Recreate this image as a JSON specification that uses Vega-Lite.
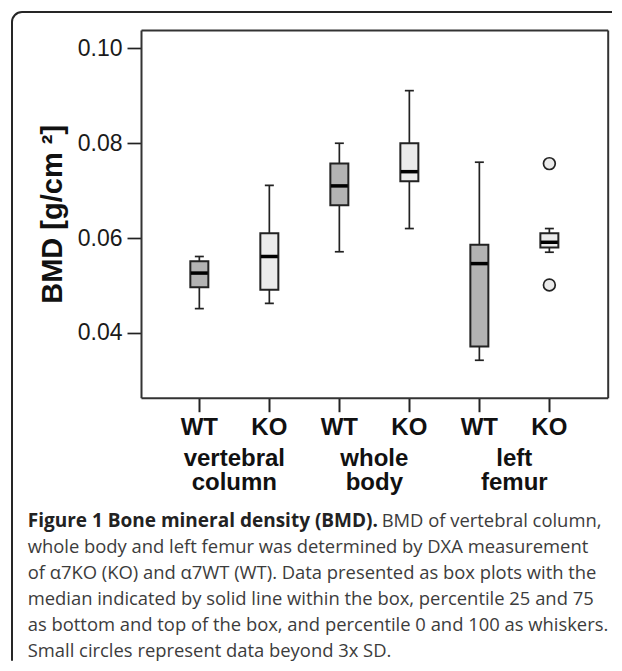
{
  "$schema": "https://vega.github.io/schema/vega-lite/v6.json",
  "width": 610,
  "height": 659,
  "autosize": {"type": "none"},
  "padding": {"left": 12, "top": 12, "right": 0, "bottom": 0},
  "background": "white",
  "config": {
    "view": {"stroke": "#262626", "strokeWidth": 2, "cornerRadius": 10, "strokeDash": [590, 1276, 700, 1000]},
    "axis": {"grid": false, "labelFont": "Liberation Sans", "titleFont": "Liberation Sans"}
  },
  "datasets": {
    "boxes": [
      {"box": "vertebral column WT", "site": "vertebral column", "genotype": "WT", "min": 0.0451, "q1": 0.0496, "median": 0.0526, "q3": 0.0551, "max": 0.0561},
      {"box": "vertebral column KO", "site": "vertebral column", "genotype": "KO", "min": 0.0462, "q1": 0.0491, "median": 0.0561, "q3": 0.0610, "max": 0.0711},
      {"box": "whole body WT", "site": "whole body", "genotype": "WT", "min": 0.0571, "q1": 0.0669, "median": 0.0710, "q3": 0.0757, "max": 0.0800},
      {"box": "whole body KO", "site": "whole body", "genotype": "KO", "min": 0.0620, "q1": 0.0720, "median": 0.0740, "q3": 0.0800, "max": 0.0911},
      {"box": "left femur WT", "site": "left femur", "genotype": "WT", "min": 0.0342, "q1": 0.0371, "median": 0.0546, "q3": 0.0586, "max": 0.0760},
      {"box": "left femur KO", "site": "left femur", "genotype": "KO", "min": 0.0570, "q1": 0.0580, "median": 0.0591, "q3": 0.0610, "max": 0.0620}
    ],
    "outliers": [
      {"box": "left femur KO", "genotype": "KO", "value": 0.0757},
      {"box": "left femur KO", "genotype": "KO", "value": 0.0501}
    ],
    "caption": [
      {"line": 1, "part": "bold", "text": "Figure 1 Bone mineral density (BMD)."},
      {"line": 1, "part": "lead", "text": "BMD of vertebral column,"},
      {"line": 2, "part": "body", "text": "whole body and left femur was determined by DXA measurement"},
      {"line": 3, "part": "body", "text": "of α7KO (KO) and α7WT (WT). Data presented as box plots with the"},
      {"line": 4, "part": "body", "text": "median indicated by solid line within the box, percentile 25 and 75"},
      {"line": 5, "part": "body", "text": "as bottom and top of the box, and percentile 0 and 100 as whiskers."},
      {"line": 6, "part": "body", "text": "Small circles represent data beyond 3x SD."}
    ]
  },
  "layer": [
    {
      "layer": [
        {
          "data": {"name": "boxes"},
          "mark": {"type": "rule", "stroke": "#222222", "strokeWidth": 1.7},
          "encoding": {
            "x": {
              "field": "box", "type": "nominal",
              "scale": {"type": "band", "domain": ["vertebral column WT", "vertebral column KO", "whole body WT", "whole body KO", "left femur WT", "left femur KO"], "range": [129, 595.7], "paddingInner": 0, "paddingOuter": 0.3333},
              "axis": {"orient": "bottom", "offset": -273.3, "title": null, "domain": true, "domainColor": "#333333", "domainWidth": 2, "ticks": true, "tickSize": 14, "tickWidth": 2, "tickColor": "#222222", "labelExpr": "slice(datum.value, -2)", "labelAngle": 0, "labelFont": "Liberation Sans", "labelFontSize": 24, "labelFontWeight": "bold", "labelColor": "#111111", "labelPadding": 4}
            },
            "y": {
              "field": "min", "type": "quantitative",
              "scale": {"domain": [0.0263, 0.1039], "range": [385.7, 18], "nice": false, "zero": false},
              "axis": {"orient": "left", "offset": -129, "values": [0.04, 0.06, 0.08, 0.1], "format": ".2f", "title": "BMD [g/cm ²]", "titleFont": "Liberation Sans", "titleFontSize": 29, "titleFontWeight": "bold", "titleColor": "#111111", "titlePadding": 10, "domain": true, "domainColor": "#333333", "domainWidth": 2, "tickSize": 14, "tickWidth": 1.7, "tickColor": "#222222", "labelFont": "Liberation Sans", "labelFontSize": 23, "labelColor": "#1a1a1a", "labelPadding": 5}
            },
            "y2": {"field": "max"}
          }
        },
        {
          "data": {"name": "boxes"},
          "mark": {"type": "tick", "size": 9, "thickness": 1.7, "color": "#222222", "opacity": 1},
          "encoding": {
            "x": {"field": "box", "type": "nominal", "axis": {"orient": "top", "offset": -18, "title": null, "domain": true, "domainColor": "#333333", "domainWidth": 2, "ticks": false, "labels": false}},
            "y": {"field": "min", "type": "quantitative", "axis": null}
          }
        },
        {
          "data": {"name": "boxes"},
          "mark": {"type": "tick", "size": 9, "thickness": 1.7, "color": "#222222", "opacity": 1},
          "encoding": {
            "x": {"field": "box", "type": "nominal", "axis": null},
            "y": {"field": "max", "type": "quantitative", "axis": null}
          }
        },
        {
          "data": {"name": "boxes"},
          "mark": {"type": "bar", "width": 18, "stroke": "#222222", "strokeWidth": 2},
          "encoding": {
            "x": {"field": "box", "type": "nominal", "axis": {"orient": "bottom", "offset": -273.3, "title": null, "domain": false, "ticks": false, "tickSize": 0, "labelExpr": "slice(datum.value, -2) == 'WT' ? split(slice(datum.value, 0, -3), ' ') : ''", "labelOffset": 35, "labelAngle": 0, "labelPadding": 49, "labelFont": "Liberation Sans", "labelFontSize": 24, "labelFontWeight": "bold", "labelColor": "#111111", "labelLineHeight": 24}},
            "y": {"field": "q1", "type": "quantitative", "axis": {"orient": "right", "offset": -14.3, "title": null, "domain": true, "domainColor": "#333333", "domainWidth": 2, "ticks": false, "labels": false}},
            "y2": {"field": "q3"},
            "color": {"field": "genotype", "type": "nominal", "scale": {"domain": ["WT", "KO"], "range": ["#b3b3b3", "#ebebeb"]}, "legend": null}
          }
        },
        {
          "data": {"name": "boxes"},
          "mark": {"type": "tick", "size": 17, "thickness": 3.5, "color": "#000000", "opacity": 1},
          "encoding": {
            "x": {"field": "box", "type": "nominal", "axis": null},
            "y": {"field": "median", "type": "quantitative", "axis": null}
          }
        },
        {
          "data": {"name": "outliers"},
          "mark": {"type": "point", "shape": "circle", "filled": true, "size": 139, "fill": "#ebebeb", "stroke": "#222222", "strokeWidth": 1.7, "opacity": 1},
          "encoding": {
            "x": {"field": "box", "type": "nominal", "axis": null},
            "y": {"field": "value", "type": "quantitative", "axis": null}
          }
        }
      ],
      "resolve": {"axis": {"x": "independent", "y": "independent"}}
    },
    {
      "data": {"name": "caption"},
      "layer": [
        {
          "transform": [{"filter": "datum.part == 'body'"}],
          "mark": {"type": "text", "align": "left", "baseline": "alphabetic", "font": "Open Sans", "fontSize": 18.4, "color": "#3c3c3c"},
          "encoding": {
            "x": {"datum": 0, "type": "quantitative", "scale": {"domain": [0, 1], "range": [15.7, 600]}, "axis": null},
            "y": {"field": "line", "type": "quantitative", "scale": {"domain": [1, 6], "range": [515, 645]}, "axis": null},
            "text": {"field": "text"}
          }
        },
        {
          "transform": [{"filter": "datum.part == 'bold'"}],
          "mark": {"type": "text", "align": "left", "baseline": "alphabetic", "font": "Open Sans", "fontSize": 19, "fontWeight": "bold", "color": "#222222"},
          "encoding": {
            "x": {"datum": 0, "type": "quantitative", "axis": null},
            "y": {"field": "line", "type": "quantitative", "axis": null},
            "text": {"field": "text"}
          }
        },
        {
          "transform": [{"filter": "datum.part == 'lead'"}],
          "mark": {"type": "text", "align": "left", "baseline": "alphabetic", "font": "Open Sans", "fontSize": 18.4, "color": "#3c3c3c", "dx": 354},
          "encoding": {
            "x": {"datum": 0, "type": "quantitative", "axis": null},
            "y": {"field": "line", "type": "quantitative", "axis": null},
            "text": {"field": "text"}
          }
        }
      ]
    }
  ],
  "resolve": {"scale": {"x": "independent", "y": "independent"}, "axis": {"x": "independent", "y": "independent"}}
}
